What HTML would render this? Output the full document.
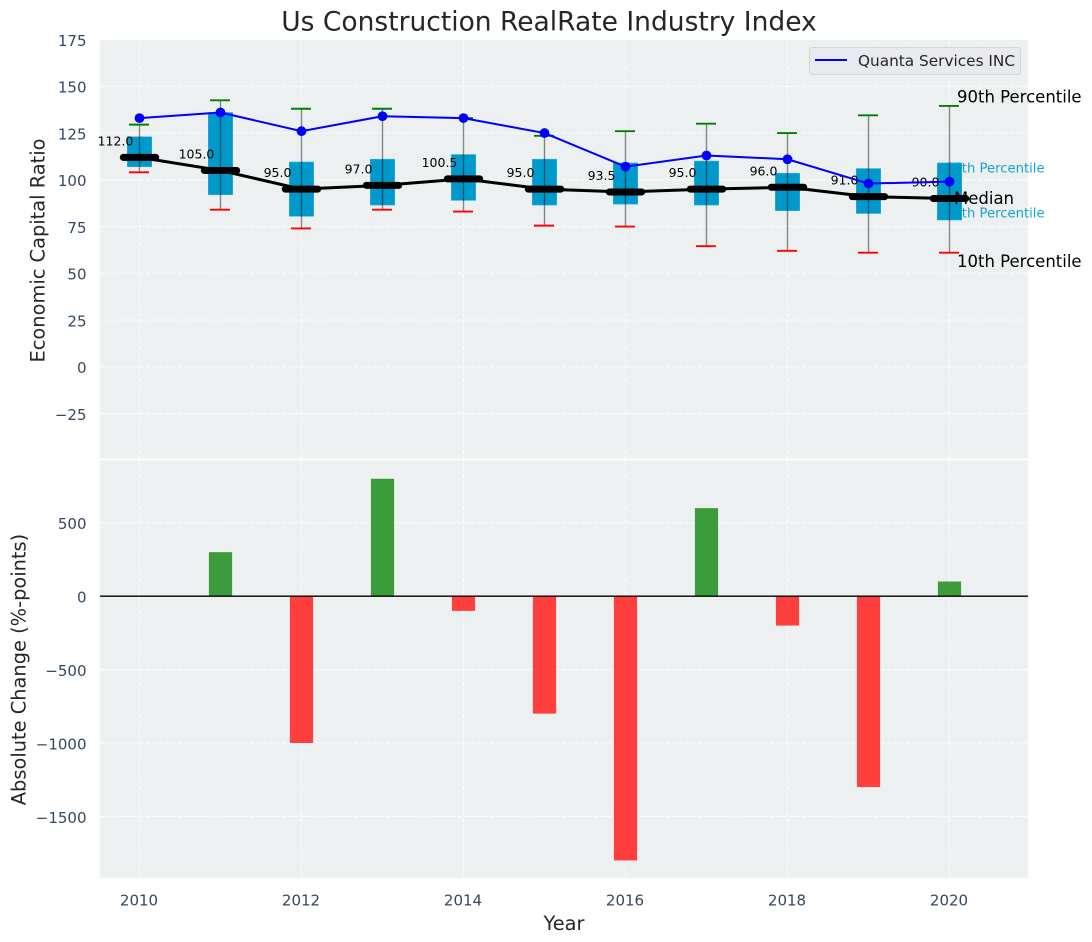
<!DOCTYPE html>
<html lang="en">
<head>
<meta charset="utf-8">
<title>Us Construction RealRate Industry Index</title>
<style>
html,body{margin:0;padding:0;background:#fff;}
svg{display:block;font-family:"DejaVu Sans","Liberation Sans",sans-serif;}
</style>
</head>
<body>
<svg id="chart" xmlns="http://www.w3.org/2000/svg" width="1092" height="942" viewBox="0 0 1092 942"></svg>
<script>
const years = [2010,2011,2012,2013,2014,2015,2016,2017,2018,2019,2020];
const medianValues = [112,105,95,97,100.5,95,93.5,95,96,91,90];
const companyValues = [133,136,126,134,133,125,107,113,111,98,99];
const p90Values = [129.5,142.5,138,138,133,123.5,126,130,125,134.5,139.5];
const p10Values = [104,84,74,84,83,75.5,75,64.5,62,61,61];
const q3Values = [123,136,109.5,111,113.5,111,109,110,103.5,106,109];
const q1Values = [107,92,80.5,86.5,89,86.5,87,86.5,83.5,82,78.5];
const changeValues = [0,300,-1000,800,-100,-800,-1800,600,-200,-1300,100];
const topTickValues = [175,150,125,100,75,50,25,0,-25];
const bottomTickValues = [500,0,-500,-1000,-1500];
const xTickValues = [2010,2012,2014,2016,2018,2020];

const svg = document.getElementById('chart');
const NS = 'http://www.w3.org/2000/svg';
const L = 100, R = 1028, T1 = 40, B1 = 458.5, T2 = 460.5, B2 = 878;
const x = v => 139.5 + (v - 2010) * 81;
const yTop = v => 366.8 - v * 1.87;
const yBot = v => 596.2 - v * 0.1468;
const fmt = v => String(v).replace('-', '\u2212');

function mk(tag, attrs, text) {
  const el = document.createElementNS(NS, tag);
  for (const k in attrs) el.setAttribute(k, attrs[k]);
  if (text !== undefined) el.textContent = text;
  svg.appendChild(el);
  return el;
}
let el;

el = mk('rect', {x:L, y:T1, width:R-L, height:B1-T1, fill:'#ecf0f1'});


el = mk('rect', {x:L, y:T2, width:R-L, height:B2-T2, fill:'#ecf0f1'});



const gridStyle = {stroke:'#ffffff', 'stroke-width':1.2, 'stroke-dasharray':'4.5 2', fill:'none', opacity:0.75};
topTickValues.forEach(v => {
  el = mk('line', Object.assign({x1:L, x2:R, y1:yTop(v), y2:yTop(v)}, gridStyle));
  
  
  el = mk('text', {x:86.5, y:yTop(v)+1.4, 'text-anchor':'end', 'dominant-baseline':'central', 'font-size':15, fill:'#34495e'}, fmt(v));
  
  
});
bottomTickValues.forEach(v => {
  el = mk('line', Object.assign({x1:L, x2:R, y1:yBot(v), y2:yBot(v)}, gridStyle));
  
  
  el = mk('text', {x:86.5, y:yBot(v)+1.4, 'text-anchor':'end', 'dominant-baseline':'central', 'font-size':15, fill:'#34495e'}, fmt(v));
  
  
});
xTickValues.forEach(v => {
  el = mk('line', Object.assign({x1:x(v), x2:x(v), y1:T1, y2:B1}, gridStyle));
  
  
  el = mk('line', Object.assign({x1:x(v), x2:x(v), y1:T2, y2:B2}, gridStyle));
  
  
  el = mk('text', {x:x(v)-0.5, y:900.5, 'text-anchor':'middle', 'dominant-baseline':'central', 'font-size':15, fill:'#34495e'}, String(v));
  
  
});

const last = years.length - 1;
el = mk('text', {x:x(2020)-4.5, y:yTop(q3Values[last])+6, 'dominant-baseline':'central', 'font-size':13.2, fill:'#0099cc', opacity:0.9}, '75th Percentile');


el = mk('text', {x:x(2020)-4.5, y:yTop(q1Values[last])-6, 'dominant-baseline':'central', 'font-size':13.2, fill:'#0099cc', opacity:0.9}, '25th Percentile');



years.forEach((yr, i) => {
  const cx = x(yr);
  el = mk('rect', {x:cx-12.2, y:yTop(q3Values[i]), width:24.4, height:yTop(q1Values[i])-yTop(q3Values[i]), fill:'#0099cc', stroke:'#33addb', 'stroke-width':0.6});
  
  
  el = mk('line', {x1:cx, x2:cx, y1:yTop(p90Values[i]), y2:yTop(p10Values[i]), stroke:'#000', 'stroke-opacity':0.45, 'stroke-width':1.4});
  
  
  el = mk('line', {x1:cx-10.5, x2:cx+9.5, y1:yTop(p90Values[i]), y2:yTop(p90Values[i]), stroke:'#008000', 'stroke-width':1.9});
  
  
  el = mk('line', {x1:cx-10.5, x2:cx+9.5, y1:yTop(p10Values[i]), y2:yTop(p10Values[i]), stroke:'#ff0000', 'stroke-width':1.9});
  
  
});

el = mk('polyline', {points:years.map((yr,i)=>x(yr)+','+yTop(medianValues[i])).join(' '), fill:'none', stroke:'#000', 'stroke-width':3, 'stroke-linejoin':'round'});


years.forEach((yr, i) => {
  el = mk('line', {x1:x(yr)-16.2, x2:x(yr)+16.2, y1:yTop(medianValues[i]), y2:yTop(medianValues[i]), stroke:'#000', 'stroke-width':7, 'stroke-linecap':'round'});
  
  
  el = mk('text', {x:x(yr)-24, y:yTop(medianValues[i])-16.5, 'text-anchor':'middle', 'dominant-baseline':'central', 'font-size':12.5, fill:'#000'}, medianValues[i].toFixed(1));
  
  
});

el = mk('polyline', {points:years.map((yr,i)=>x(yr)+','+yTop(companyValues[i])).join(' '), fill:'none', stroke:'#0000ff', 'stroke-width':2, 'stroke-linejoin':'round'});


years.forEach((yr, i) => {
  el = mk('circle', {cx:x(yr), cy:yTop(companyValues[i]), r:4.9, fill:'#0000ff'});
  
  
});

el = mk('text', {x:x(2020)+7.5, y:yTop(p90Values[last])-9, 'dominant-baseline':'central', 'font-size':16.5, fill:'#000'}, '90th Percentile');


el = mk('text', {x:x(2020)+4.5, y:yTop(medianValues[last]), 'dominant-baseline':'central', 'font-size':16.5, fill:'#000'}, 'Median');


el = mk('text', {x:x(2020)+7.5, y:yTop(p10Values[last])+9, 'dominant-baseline':'central', 'font-size':16.5, fill:'#000'}, '10th Percentile');



years.forEach((yr, i) => {
  const v = changeValues[i];
  if (v === 0) return;
  el = mk('rect', {x:x(yr)-11.6, y:Math.min(yBot(0),yBot(v)), width:23.2, height:Math.abs(yBot(v)-yBot(0)), fill:v>0?'#3c9c3c':'#ff3e3e'});
  
  
});
el = mk('line', {x1:L, x2:R, y1:yBot(0), y2:yBot(0), stroke:'#000', 'stroke-width':1.4});



el = mk('rect', {x:809.5, y:47.5, width:211, height:27, rx:3, fill:'#e8eaef', stroke:'#d3d5d8', 'stroke-width':1});


el = mk('line', {x1:815, x2:847, y1:60, y2:60, stroke:'#0000ff', 'stroke-width':2});


el = mk('text', {x:858, y:61, 'dominant-baseline':'central', 'font-size':15.3, fill:'#262626'}, 'Quanta Services INC');



el = mk('text', {x:549, y:22, 'text-anchor':'middle', 'dominant-baseline':'central', 'font-size':26.5, fill:'#262626'}, 'Us Construction RealRate Industry Index');


el = mk('text', {x:564, y:923.5, 'text-anchor':'middle', 'dominant-baseline':'central', 'font-size':19.4, fill:'#262626'}, 'Year');


el = mk('text', {transform:'translate(38,250.5) rotate(-90)', 'text-anchor':'middle', 'dominant-baseline':'central', 'font-size':19.4, fill:'#262626'}, 'Economic Capital Ratio');


el = mk('text', {transform:'translate(19,669.5) rotate(-90)', 'text-anchor':'middle', 'dominant-baseline':'central', 'font-size':19.4, fill:'#262626'}, 'Absolute Change (%-points)');


</script>
</body>
</html>
